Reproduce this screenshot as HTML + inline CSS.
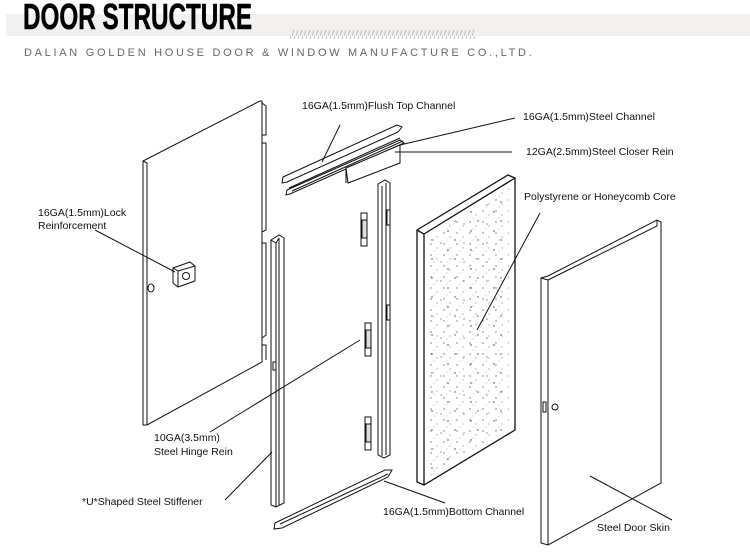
<!DOCTYPE html>
<html><head><meta charset="utf-8"><style>
html,body{margin:0;padding:0;background:#fff;}
svg{display:block}
text{font-family:"Liberation Sans",sans-serif;font-size:10.5px;fill:#111}
</style></head><body>
<svg width="750" height="560" viewBox="0 0 750 560" xmlns="http://www.w3.org/2000/svg">
<defs>
<pattern id="h" width="4" height="9" patternUnits="userSpaceOnUse">
<line x1="0" y1="9" x2="3" y2="0" stroke="#b8aea4" stroke-width="0.8"/>
</pattern>
<pattern id="dots" width="13" height="11" patternUnits="userSpaceOnUse">
<circle cx="2" cy="2" r="0.7" fill="#444"/><circle cx="8" cy="6" r="0.6" fill="#666"/><circle cx="5" cy="9" r="0.5" fill="#888"/>
</pattern>
<pattern id="dots2" width="23" height="19" patternUnits="userSpaceOnUse">
<circle cx="11" cy="3" r="0.7" fill="#333"/><circle cx="18" cy="12" r="0.7" fill="#444"/><circle cx="4" cy="15" r="0.6" fill="#555"/>
</pattern>
<clipPath id="cc"><path d="M426,238 L509,188 L509,428 L426,478 Z"/></clipPath>
</defs>
<rect x="6" y="14" width="744" height="22" fill="#f2f1f0"/>
<text x="23" y="29" style="font-family:'Liberation Sans',sans-serif;font-size:36px;font-weight:bold;fill:#000;stroke:#000;stroke-width:0.6" textLength="229" lengthAdjust="spacingAndGlyphs">DOOR STRUCTURE</text>
<rect x="290" y="30" width="186" height="9" fill="url(#h)"/>
<text x="24" y="56" style="font-size:11px;fill:#666;letter-spacing:2.7px">DALIAN GOLDEN HOUSE DOOR &amp; WINDOW MANUFACTURE CO.,LTD.</text>

<g fill="none" stroke="#111" stroke-width="1">
<path d="M143,161 L260,101 L262,101 L262,362 L147,425 L143,425 Z" fill="#fff"/>
<line x1="147" y1="163" x2="147" y2="425"/>
<path d="M143,161 L147,163"/>
<path d="M262,103 L266,106 L266,135 L262,135"/>
<path d="M262,143 L266,143 L266,230 L262,232"/>
<path d="M262,243 L266,243 L266,335 L262,338"/>
<path d="M262,345 L266,345 L266,360"/>
<ellipse cx="151" cy="288" rx="3" ry="4"/>
<path d="M173,268 L190,262 L195,266 L195,281 L178,287 L173,283 Z" fill="#fff"/>
<path d="M173,268 L178,271 L195,266 M178,271 L178,287"/>
<circle cx="186" cy="276" r="3.5"/>
<path d="M271,240 L279,235 L284,238 L284,503 L276,507 L271,505 Z" fill="#fff"/>
<path d="M276,243 L276,507 M279,238 L279,505 M271,240 L276,243 L279,238"/>
<rect x="273" y="362" width="3" height="8"/>
<path d="M378,184 L385,180 L390,183 L390,455 L384,458 L378,455 Z" fill="#fff"/>
<path d="M382,186 L382,456 M386,183 L386,455"/>
<rect x="387" y="210" width="3" height="15"/><rect x="387" y="305" width="3" height="15"/>
<g fill="#fff">
<rect x="361" y="213" width="6" height="33"/><rect x="362" y="220" width="5" height="18" fill="#ddd"/>
<rect x="365" y="323" width="6" height="33"/><rect x="366" y="330" width="5" height="18" fill="#ddd"/>
<rect x="365" y="417" width="6" height="33"/><rect x="366" y="424" width="5" height="18" fill="#ddd"/>
</g>
<path d="M283,177 L397,125 L402,127 L398,132 L287,182 L282,183 Z" fill="#fff"/>
<path d="M287,190 L400,140 L404,143 L290,194 L286,195 Z" fill="#fff"/>
<path d="M289,188 L400,138 M292,191 L403,141"/>
<path d="M346,168 L400,145 L400,163 L348,183 Z" fill="#fff"/>
<line x1="346" y1="168" x2="346" y2="183"/>
<path d="M275,523 L385,470 L392,470 L388,477 L282,528 L274,529 Z" fill="#fff"/>
<path d="M280,524 L388,474"/>
<path d="M417,230 L508,175 L515,178 L515,430 L424,485 L417,482 Z" fill="#fff" stroke-width="1.3"/>
<path d="M424,234 L515,178 M417,230 L424,234 L424,485" stroke-width="1.3"/>
<g clip-path="url(#cc)" stroke="none"><rect x="420" y="170" width="100" height="320" fill="url(#dots)" opacity="0.75"/><rect x="420" y="170" width="100" height="320" fill="url(#dots2)"/></g>
<path d="M541,278 L548,276 L657,220 L661,222 L661,483 L548,545 L541,543 Z" fill="#fff"/>
<path d="M548,280 L548,545 M541,278 L548,280 M657,220 L657,226 L548,280"/>
<rect x="543" y="402" width="3" height="10"/>
<circle cx="555" cy="407" r="3"/>
<path d="M340,125 L322,162 M515,118 L400,145 M512,152 L395,152 M95,230 L175,272 M210,432 L360,340 M225,500 L272,452 M445,503 L384,481 M540,213 L477,330 M590,476 L672,520"/>
</g>
<text x="302" y="109">16GA(1.5mm)Flush Top Channel</text>
<text x="523" y="120">16GA(1.5mm)Steel Channel</text>
<text x="526" y="155">12GA(2.5mm)Steel Closer Rein</text>
<text x="524" y="200">Polystyrene or Honeycomb Core</text>
<text x="38" y="216">16GA(1.5mm)Lock</text>
<text x="38" y="229">Reinforcement</text>
<text x="154" y="441">10GA(3.5mm)</text>
<text x="154" y="455">Steel Hinge Rein</text>
<text x="82" y="505">*U*Shaped Steel Stiffener</text>
<text x="383" y="515">16GA(1.5mm)Bottom Channel</text>
<text x="597" y="531">Steel Door Skin</text>
</svg>
</body></html>
